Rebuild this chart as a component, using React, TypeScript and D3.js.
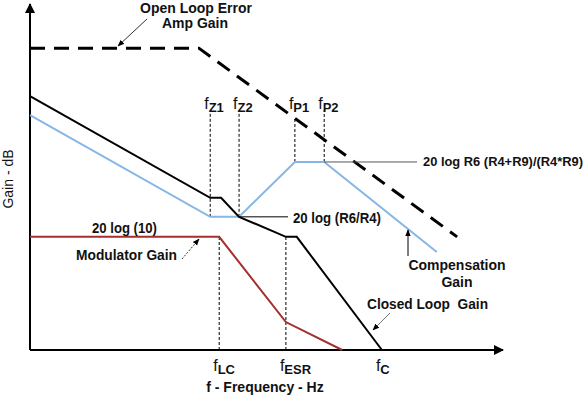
import React from "react";
import * as d3 from "d3";

// schematic bode plot, x = log frequency (0..100), y = gain (0..100)
const openLoop: [number, number][] = [[0, 87.5], [35.7, 87.5], [90.3, 32.8]];
const closedLoop: [number, number][] = [
  [0, 73.6], [38.1, 44.1], [40.4, 44.1], [44.2, 38.6], [54.1, 32.8], [56.4, 32.8], [74.4, 0],
];
const compensation: [number, number][] = [
  [0, 68.1], [38.1, 38.6], [44.2, 38.6], [56.0, 54.5], [62.2, 54.5], [86.0, 28.4],
];
const modulator: [number, number][] = [[0, 32.8], [40.0, 32.8], [54.1, 8.1], [66.0, 0]];

// corner frequency markers: subscript, x, y from, y to
const topMarkers: [string, number, number, number][] = [
  ["Z1", 38.1, 38.6, 68.7],
  ["Z2", 44.2, 38.6, 68.7],
  ["P1", 56.0, 54.5, 67.5],
  ["P2", 62.2, 54.5, 69.6],
];
const bottomMarkers: [string, number, number][] = [
  ["LC", 40.0, 32.8],
  ["ESR", 54.1, 32.8],
  ["C", 74.4, 0],
];

const W = 588;
const H = 396;
const FONT = "'Liberation Sans', Arial, sans-serif";

const x = d3.scaleLinear().domain([0, 100]).range([30, 503]);
const y = d3.scaleLinear().domain([0, 100]).range([350, 5]);
const line = d3.line<[number, number]>().x(d => x(d[0])).y(d => y(d[1]));

const App = () => {
  const bold = { fontFamily: FONT, fontWeight: 700, fontSize: 14, fill: "#111" } as const;
  const fLabel = { fontFamily: FONT, fontWeight: 400, fontSize: 16, fill: "#111" } as const;
  return (
    <div style={{ position: "absolute", left: 0, top: 0 }}>
      <svg width={W} height={H} style={{ display: "block", background: "#fff" }}>
        <defs>
          <marker id="axisHead" viewBox="0 0 10 10" refX="9" refY="5" markerWidth="10" markerHeight="10"
            markerUnits="userSpaceOnUse" orient="auto">
            <path d="M0,0 L10,5 L0,10 z" fill="#000" />
          </marker>
          <marker id="smallHead" viewBox="0 0 10 10" refX="9" refY="5" markerWidth="7" markerHeight="7"
            markerUnits="userSpaceOnUse" orient="auto">
            <path d="M0,1 L10,5 L0,9 z" fill="#000" />
          </marker>
        </defs>

        {/* axes */}
        <line x1={x(0)} y1={y(0)} x2={x(0)} y2={4} stroke="#000" strokeWidth={2} markerEnd="url(#axisHead)" />
        <line x1={x(0)} y1={y(0)} x2={x(100)} y2={y(0)} stroke="#000" strokeWidth={2} markerEnd="url(#axisHead)" />

        {/* dashed marker lines */}
        {topMarkers.map(([n, fx, y0, y1]) => (
          <line key={n} x1={x(fx)} x2={x(fx)} y1={y(y0)} y2={y(y1)} stroke="#000" strokeWidth={1}
            strokeDasharray="3,2" />
        ))}
        {bottomMarkers.filter(d => d[2] > 0).map(([n, fx, y1]) => (
          <line key={n} x1={x(fx)} x2={x(fx)} y1={y(0)} y2={y(y1)} stroke="#000" strokeWidth={1}
            strokeDasharray="3,2" />
        ))}

        {/* curves */}
        <path d={line(openLoop) || ""} fill="none" stroke="#000" strokeWidth={3} strokeDasharray="15,9" />
        <path d={line(compensation) || ""} fill="none" stroke="#86b6e6" strokeWidth={2} />
        <path d={line(modulator) || ""} fill="none" stroke="#a3302e" strokeWidth={2} />
        <path d={line(closedLoop) || ""} fill="none" stroke="#000" strokeWidth={2} />

        {/* marker labels */}
        {topMarkers.map(([n, fx]) => (
          <text key={n} x={x(fx) - 6} y={109} style={fLabel}>
            f<tspan dy={3} style={{ fontSize: 13, fontWeight: 700 }}>{n}</tspan>
          </text>
        ))}
        {bottomMarkers.map(([n, fx]) => (
          <text key={n} x={x(fx) - 6} y={371} style={fLabel}>
            f<tspan dy={3} style={{ fontSize: 13, fontWeight: 700 }}>{n}</tspan>
          </text>
        ))}

        {/* leader lines */}
        <line x1={x(62.2)} y1={y(54.5)} x2={417} y2={y(54.5)} stroke="#555" strokeWidth={1} />
        <line x1={x(44.2)} y1={y(38.6)} x2={288} y2={y(38.6)} stroke="#000" strokeWidth={1} />

        {/* annotations */}
        <text x={196} y={13} textAnchor="middle" style={bold}>Open Loop Error</text>
        <text x={195} y={28} textAnchor="middle" style={bold}>Amp Gain</text>
        <line x1={147} y1={19} x2={118} y2={46} stroke="#000" strokeWidth={0.8} markerEnd="url(#smallHead)" />

        <text x={423} y={166} style={{ ...bold, fontSize: 12.5 }} textLength={160} lengthAdjust="spacingAndGlyphs">
          20 log R6 (R4+R9)/(R4*R9)
        </text>
        <text x={293} y={223} style={bold} textLength={88} lengthAdjust="spacingAndGlyphs">20 log (R6/R4)</text>
        <text x={92} y={233} style={bold} textLength={65} lengthAdjust="spacingAndGlyphs">20 log (10)</text>

        <text x={76} y={260} style={bold} textLength={101} lengthAdjust="spacingAndGlyphs">Modulator Gain</text>
        <line x1={182} y1={259} x2={199} y2={239} stroke="#000" strokeWidth={0.8} strokeDasharray="2,1.5"
          markerEnd="url(#smallHead)" />

        <text x={457} y={270} textAnchor="middle" style={bold}>Compensation</text>
        <text x={457} y={287} textAnchor="middle" style={bold}>Gain</text>
        <line x1={408} y1={256} x2={408} y2={230} stroke="#000" strokeWidth={1} markerEnd="url(#smallHead)" />

        <text x={367} y={309} style={{ ...bold, whiteSpace: "pre" }} textLength={121}
          lengthAdjust="spacingAndGlyphs">{"Closed Loop  Gain"}</text>
        <line x1={390} y1={313} x2={373} y2={330} stroke="#555" strokeWidth={0.8} markerEnd="url(#smallHead)" />

        <text x={265} y={392} textAnchor="middle" style={bold}>f - Frequency - Hz</text>
        <text transform="translate(13,179) rotate(-90)" textAnchor="middle"
          style={{ fontFamily: FONT, fontSize: 14, fill: "#111" }}>Gain - dB</text>
      </svg>
    </div>
  );
};

export default App;
